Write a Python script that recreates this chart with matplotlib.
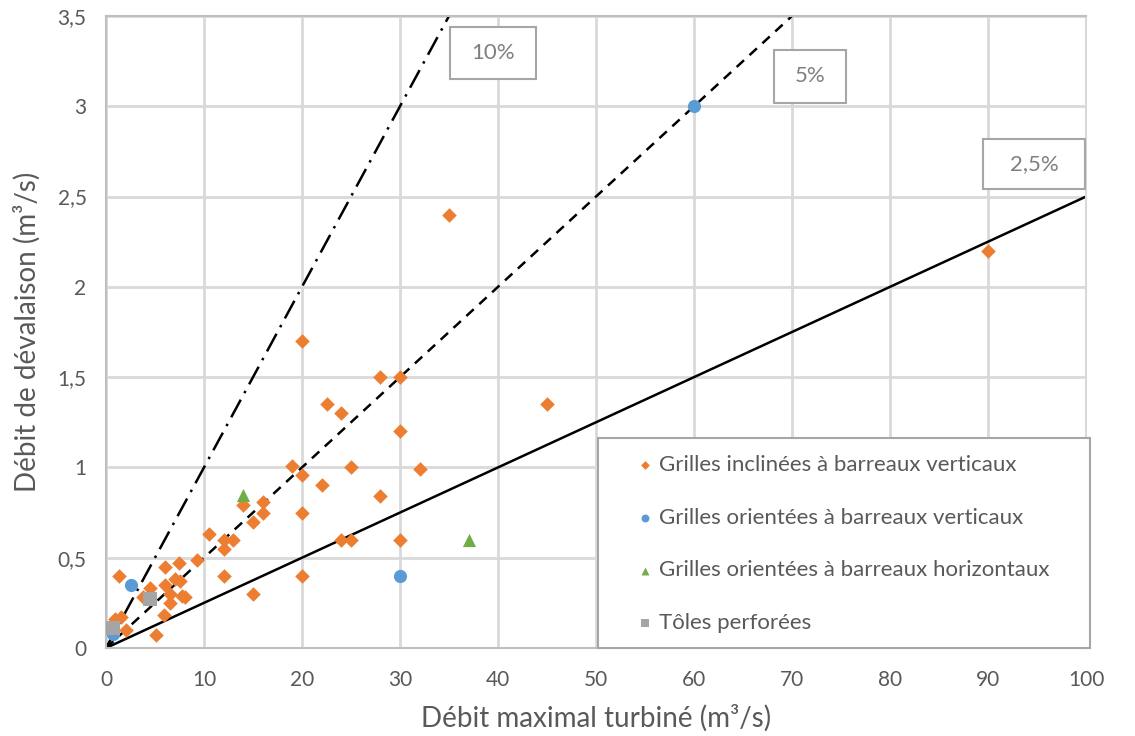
import matplotlib
matplotlib.use("Agg")
import matplotlib.pyplot as plt
from matplotlib.patches import Rectangle
import numpy as np

plt.rcParams['font.family'] = ['Lato', 'DejaVu Sans']

# Data
incl_x = [90, 45, 35, 20, 28, 30, 22.5, 24, 30, 19, 20, 25, 32, 22, 28, 14, 16, 16, 15, 20,
          10.5, 12, 13, 12, 24, 25, 30, 20, 12, 15, 9.3, 7.4, 6, 1.3, 7, 7.5, 6, 4.5, 6.5,
          7.8, 8.1, 3.8, 6.5, 5.9, 0.9, 1.5, 2, 5.1]
incl_y = [2.2, 1.35, 2.4, 1.7, 1.5, 1.5, 1.35, 1.3, 1.2, 1.01, 0.96, 1.0, 0.99, 0.9, 0.84, 0.79, 0.81, 0.75, 0.7, 0.75,
          0.63, 0.6, 0.6, 0.55, 0.6, 0.6, 0.6, 0.4, 0.4, 0.3, 0.49, 0.47, 0.45, 0.4, 0.38, 0.37, 0.35, 0.33, 0.3,
          0.29, 0.28, 0.28, 0.25, 0.18, 0.16, 0.17, 0.1, 0.07]
orient_v_x = [0.75, 2.5, 30, 60]
orient_v_y = [0.08, 0.35, 0.4, 3.0]
orient_h_x = [14, 37]
orient_h_y = [0.85, 0.6]
tole_x = [0.75, 4.5]
tole_y = [0.11, 0.27]

ratios = [0.025, 0.05, 0.10]
ratio_labels = ["2,5%", "5%", "10%"]

series_labels = ["Grilles inclinées à barreaux verticaux",
                 "Grilles orientées à barreaux verticaux",
                 "Grilles orientées à barreaux horizontaux",
                 "Tôles perforées"]

xticks = list(range(0, 101, 10))
yticks = [0, 0.5, 1, 1.5, 2, 2.5, 3, 3.5]
ytick_labels = ["0", "0,5", "1", "1,5", "2", "2,5", "3", "3,5"]

# Annotation box layout (data coords): x0, x1, y0, y1
label_boxes = [(89.5, 99.9, 2.54, 2.82), (68.2, 75.5, 3.02, 3.31), (35.1, 43.9, 3.15, 3.44)]

fig = plt.figure(figsize=(11.35, 7.36), dpi=100)
ax = fig.add_axes([106/1135, 88/736, 980/1135, 632/736])

gray_txt = '#595959'
ax.set_xlim(0, 100)
ax.set_ylim(0, 3.5)
ax.set_xticks(xticks)
ax.set_xticklabels([str(t) for t in xticks])
ax.set_yticks(yticks)
ax.set_yticklabels(ytick_labels)
ax.grid(True, color='#d9d9d9', linewidth=2)
ax.set_axisbelow(True)
for s in ax.spines.values():
    s.set_color('#bfbfbf')
    s.set_linewidth(1.5)
ax.spines['right'].set_color('#d9d9d9')
ax.tick_params(length=0, labelsize=15, labelcolor=gray_txt)
ax.tick_params(axis='y', pad=14)
ax.tick_params(axis='x', pad=16)

# Reference lines
xs = np.array([0, 100])
styles = ['-', (0, (4, 3)), (0, (8, 3, 1, 3))]
for r, ls in zip(ratios, styles):
    ax.plot(xs, r * xs, color='black', linestyle=ls, linewidth=1.8, zorder=2)

for (x0, x1, y0, y1), t in zip(label_boxes, ratio_labels):
    ax.add_patch(Rectangle((x0, y0), x1 - x0, y1 - y0, fc='white', ec='#a6a6a6', lw=1.5,
                           zorder=4, clip_on=False))
    ax.text((x0 + x1) / 2, (y0 + y1) / 2, t, ha='center', va='center', fontsize=16,
            color='#7f7f7f', zorder=5)

ax.scatter(incl_x, incl_y, marker='D', s=55, color='#ed7d31', label=series_labels[0], zorder=3, linewidths=0)
ax.scatter(orient_v_x, orient_v_y, marker='o', s=90, color='#5b9bd5', label=series_labels[1], zorder=3, linewidths=0)
ax.scatter(orient_h_x, orient_h_y, marker='^', s=90, color='#70ad47', label=series_labels[2], zorder=3, linewidths=0)
ax.scatter(tole_x, tole_y, marker='s', s=110, color='#a5a5a5', label=series_labels[3], zorder=3, linewidths=0)

# Legend frame
ax.add_patch(Rectangle((598/1135, 88/736), 492/1135, 210/736, transform=fig.transFigure,
                       fc='white', ec='#a6a6a6', lw=1.5, zorder=5, clip_on=False))
leg = ax.legend(loc='upper left', bbox_to_anchor=(634/1135, 1 - 455/736), bbox_transform=fig.transFigure,
                borderaxespad=0, borderpad=0, fontsize=16, labelspacing=1.47, handletextpad=0.12,
                markerscale=0.6, frameon=False, handlelength=1.0)
for t in leg.get_texts():
    t.set_color(gray_txt)
leg.set_zorder(6)

ax.set_xlabel("Débit maximal turbiné (m³/s)", fontsize=20, color=gray_txt, labelpad=10)
ax.set_ylabel("Débit de dévalaison (m³/s)", fontsize=20, color=gray_txt, labelpad=12)

fig.savefig("out.png", dpi=100)
